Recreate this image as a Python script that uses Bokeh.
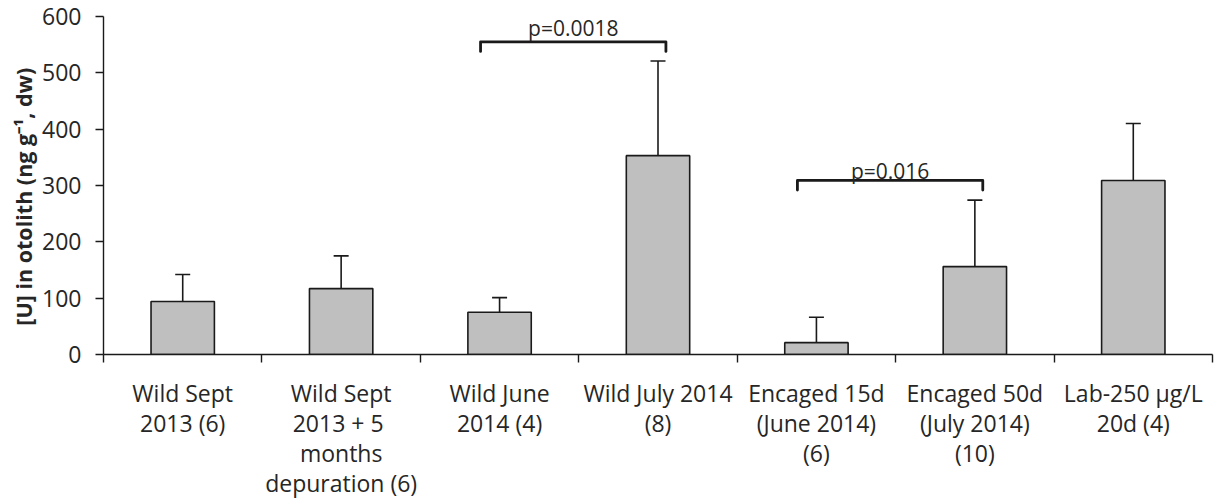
from bokeh.plotting import figure
from bokeh.models import ColumnDataSource, Range1d, FixedTicker, Whisker, TeeHead
from bokeh.core.properties import value
from bokeh.embed import file_html
from bokeh.resources import INLINE

categories = [
    "Wild Sept\n2013 (6)",
    "Wild Sept\n2013 +  5\nmonths\ndepuration (6)",
    "Wild June\n2014 (4)",
    "Wild July 2014\n(8)",
    "Encaged 15d\n(June 2014)\n(6)",
    "Encaged 50d\n(July 2014)\n(10)",
    "Lab-250 \u00b5g/L\n20d (4)",
]
means = [94, 117, 75, 353, 21, 156, 309]
sds = [48, 58, 26, 168, 45, 118, 101]

comp_left = [2, 4]
comp_right = [3, 5]
comp_labels = ["p=0.0018", "p=0.016"]
comp_heights = [555, 309]
comp_label_y = [580, 326]

y_ticks = [0, 100, 200, 300, 400, 500, 600]
y_title = "[U] in otolith (ng g\u207b\u00b9, dw)"

FONT = "Open Sans"
TXT = "#262626"

n = len(categories)
centers = [i + 0.5 for i in range(n)]
bounds = [i for i in range(n + 1)]
uppers = [m + s for m, s in zip(means, sds)]

src = ColumnDataSource(dict(x=centers, top=means, upper=uppers))

p = figure(width=1221, height=501, output_backend="svg", toolbar_location=None,
           x_range=Range1d(0, n), y_range=Range1d(0, 600),
           min_border_left=103, min_border_right=9, min_border_top=16, min_border_bottom=145)
p.outline_line_color = None
p.xgrid.visible = False
p.ygrid.visible = False

p.vbar(x="x", top="top", bottom=0, width=0.4, source=src,
       fill_color="#bfbfbf", line_color="#1a1a1a", line_width=1.6)

wh = Whisker(base="x", lower="top", upper="upper", source=src, dimension="height",
             line_color="#1a1a1a", line_width=1.6,
             upper_head=TeeHead(size=15, line_color="#1a1a1a", line_width=1.6),
             lower_head=None)
p.add_layout(wh)

# significance brackets
bx, by, tx = [], [], []
for l, r, h in zip(comp_left, comp_right, comp_heights):
    x0 = centers[l] - 0.12
    x1 = centers[r] + 0.05
    bx.append([x0, x0, x1, x1])
    by.append([h - 17, h, h, h - 17])
    tx.append((x0 + x1) / 2)
p.multi_line(xs=bx, ys=by, line_color="#1a1a1a", line_width=2.8, line_join="round", line_cap="round")
p.text(x=tx, y=comp_label_y, text=comp_labels, text_font=value(FONT), text_font_size="21px",
       text_color=TXT, text_align="center", text_baseline="middle")

# x axis
xa = p.xaxis[0]
xa.ticker = FixedTicker(ticks=centers, minor_ticks=bounds)
xa.major_label_overrides = {c: lab for c, lab in zip(centers, categories)}
xa.major_tick_line_color = None
xa.major_tick_out = 0
xa.major_tick_in = 0
xa.minor_tick_line_color = "#1a1a1a"
xa.minor_tick_line_width = 1.4
xa.minor_tick_out = 8
xa.minor_tick_in = 0
xa.axis_line_color = "#1a1a1a"
xa.axis_line_width = 1.4
xa.major_label_text_font = FONT
xa.major_label_text_font_size = "23px"
xa.major_label_text_color = TXT
xa.major_label_text_line_height = 0.94
xa.major_label_standoff = 14

# y axis
ya = p.yaxis[0]
ya.ticker = FixedTicker(ticks=y_ticks)
ya.minor_tick_line_color = None
ya.major_tick_out = 8
ya.major_tick_in = 0
ya.major_tick_line_color = "#1a1a1a"
ya.major_tick_line_width = 1.4
ya.axis_line_color = "#1a1a1a"
ya.axis_line_width = 1.4
ya.major_label_text_font = FONT
ya.major_label_text_font_size = "23px"
ya.major_label_text_color = TXT
ya.major_label_standoff = 14
# trailing no-break spaces nudge the centred title slightly down, as in the original
ya.axis_label = y_title + "\u00a0" * 4
ya.axis_label_text_font = FONT
ya.axis_label_text_font_style = "bold"
ya.axis_label_text_font_size = "21.5px"
ya.axis_label_text_color = TXT
ya.axis_label_standoff = 1

open("out.html", "w").write(file_html(p, INLINE))
